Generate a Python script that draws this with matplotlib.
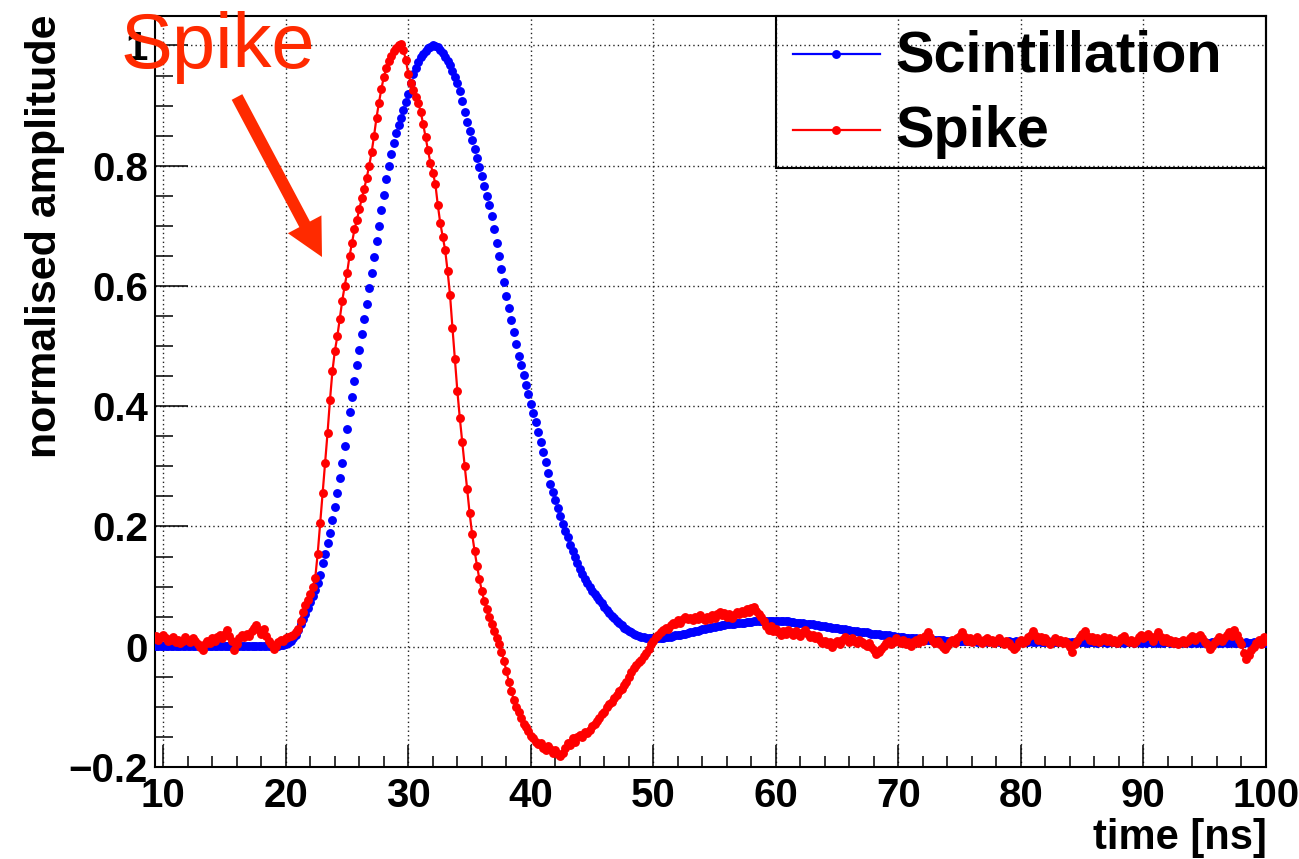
import numpy as np
import matplotlib
matplotlib.use("Agg")
import matplotlib.pyplot as plt
from matplotlib.lines import Line2D
from matplotlib.patches import Rectangle, FancyArrow
from matplotlib.transforms import IdentityTransform
from matplotlib.ticker import MultipleLocator

# ---------------------------------------------------------------- data
# sample times of the digitised pulses (0.2 ns step)
time_ns = np.round(np.arange(9.0, 100.0001, 0.2), 1)

# normalised scintillation pulse, one row per 2 ns
scintillation = [
    0.002, 0.001, 0.002, 0.001, 0.002, 0.002, 0.001, 0.002, 0.001, 0.002,   # 9
    0.001, 0.002, 0.001, 0.001, 0.002, 0.001, 0.002, 0.001, 0.001, 0.002,   # 11
    0.002, 0.001, 0.001, 0.002, 0.001, 0.002, 0.002, 0.001, 0.002, 0.001,   # 13
    0.001, 0.002, 0.002, 0.001, 0.002, 0.001, 0.001, 0.002, 0.002, 0.001,   # 15
    0.002, 0.001, 0.002, 0.002, 0.001, 0.002, 0.001, 0.002, 0.002, 0.002,   # 17
    0.002, 0.002, 0.002, 0.003, 0.003, 0.004, 0.006, 0.009, 0.014, 0.020,   # 19
    0.028, 0.037, 0.046, 0.055, 0.065, 0.075, 0.084, 0.095, 0.106, 0.120,   # 21
    0.140, 0.155, 0.172, 0.190, 0.210, 0.232, 0.255, 0.280, 0.306, 0.334,   # 23
    0.362, 0.390, 0.416, 0.442, 0.468, 0.494, 0.520, 0.545, 0.570, 0.596,   # 25
    0.622, 0.648, 0.674, 0.700, 0.726, 0.752, 0.778, 0.800, 0.820, 0.838,   # 27
    0.855, 0.868, 0.880, 0.892, 0.906, 0.920, 0.938, 0.952, 0.962, 0.972,   # 29
    0.980, 0.986, 0.991, 0.995, 0.998, 1.000, 0.999, 0.997, 0.993, 0.987,   # 31
    0.980, 0.974, 0.968, 0.958, 0.948, 0.937, 0.925, 0.908, 0.890, 0.873,   # 33
    0.857, 0.842, 0.828, 0.813, 0.798, 0.783, 0.767, 0.750, 0.734, 0.716,   # 35
    0.694, 0.672, 0.650, 0.628, 0.606, 0.584, 0.564, 0.544, 0.524, 0.504,   # 37
    0.484, 0.468, 0.452, 0.436, 0.420, 0.404, 0.389, 0.373, 0.357, 0.340,   # 39
    0.324, 0.307, 0.289, 0.271, 0.257, 0.244, 0.230, 0.217, 0.204, 0.193,   # 41
    0.182, 0.170, 0.159, 0.149, 0.139, 0.130, 0.121, 0.113, 0.106, 0.099,   # 43
    0.093, 0.088, 0.083, 0.078, 0.072, 0.066, 0.061, 0.056, 0.051, 0.047,   # 45
    0.043, 0.039, 0.036, 0.032, 0.029, 0.026, 0.024, 0.022, 0.020, 0.018,   # 47
    0.017, 0.016, 0.015, 0.014, 0.014, 0.014, 0.014, 0.015, 0.015, 0.015,   # 49
    0.016, 0.017, 0.017, 0.018, 0.019, 0.019, 0.020, 0.021, 0.022, 0.023,   # 51
    0.024, 0.025, 0.026, 0.027, 0.028, 0.029, 0.030, 0.031, 0.032, 0.033,   # 53
    0.033, 0.034, 0.035, 0.036, 0.036, 0.037, 0.037, 0.038, 0.038, 0.039,   # 55
    0.039, 0.040, 0.040, 0.041, 0.041, 0.041, 0.042, 0.042, 0.042, 0.043,   # 57
    0.043, 0.043, 0.043, 0.043, 0.043, 0.043, 0.043, 0.042, 0.042, 0.042,   # 59
    0.042, 0.041, 0.041, 0.040, 0.040, 0.039, 0.039, 0.038, 0.038, 0.037,   # 61
    0.037, 0.036, 0.036, 0.035, 0.034, 0.034, 0.033, 0.033, 0.032, 0.031,   # 63
    0.031, 0.030, 0.030, 0.029, 0.028, 0.028, 0.027, 0.027, 0.026, 0.025,   # 65
    0.025, 0.024, 0.024, 0.023, 0.022, 0.022, 0.021, 0.021, 0.020, 0.020,   # 67
    0.019, 0.019, 0.018, 0.018, 0.017, 0.017, 0.016, 0.016, 0.015, 0.015,   # 69
    0.014, 0.014, 0.014, 0.013, 0.013, 0.013, 0.012, 0.012, 0.012, 0.012,   # 71
    0.011, 0.011, 0.011, 0.011, 0.010, 0.010, 0.010, 0.010, 0.010, 0.010,   # 73
    0.009, 0.010, 0.009, 0.009, 0.010, 0.009, 0.009, 0.008, 0.009, 0.009,   # 75
    0.009, 0.008, 0.009, 0.009, 0.008, 0.009, 0.008, 0.009, 0.008, 0.008,   # 77
    0.009, 0.008, 0.008, 0.009, 0.008, 0.008, 0.009, 0.008, 0.008, 0.009,   # 79
    0.008, 0.008, 0.009, 0.008, 0.008, 0.008, 0.009, 0.008, 0.008, 0.008,   # 81
    0.008, 0.009, 0.008, 0.008, 0.008, 0.007, 0.008, 0.008, 0.009, 0.008,   # 83
    0.008, 0.008, 0.007, 0.008, 0.008, 0.008, 0.007, 0.008, 0.008, 0.008,   # 85
    0.007, 0.008, 0.008, 0.008, 0.007, 0.008, 0.008, 0.007, 0.008, 0.008,   # 87
    0.008, 0.007, 0.008, 0.008, 0.007, 0.008, 0.007, 0.008, 0.008, 0.007,   # 89
    0.008, 0.007, 0.008, 0.007, 0.008, 0.008, 0.007, 0.008, 0.007, 0.008,   # 91
    0.007, 0.008, 0.007, 0.008, 0.007, 0.007, 0.008, 0.007, 0.008, 0.007,   # 93
    0.008, 0.007, 0.007, 0.008, 0.007, 0.008, 0.007, 0.007, 0.008, 0.007,   # 95
    0.007, 0.008, 0.007, 0.007, 0.008, 0.007, 0.007, 0.008, 0.007, 0.007,   # 97
    0.008, 0.007, 0.007, 0.008, 0.007, 0.007,                               # 99
]

# normalised spike pulse, one row per 2 ns
spike = [
    0.010, 0.014, 0.018, 0.012, 0.016, 0.020, 0.015, 0.010, 0.012, 0.016,   # 9
    0.008, 0.012, 0.006, 0.010, 0.016, 0.012, 0.008, 0.014, 0.010, 0.004,   # 11
    0.000, -0.006, 0.004, 0.010, 0.006, 0.014, 0.010, 0.016, 0.020, 0.014,  # 13
    0.022, 0.028, 0.018, 0.010, -0.006, 0.004, 0.014, 0.020, 0.016, 0.022,  # 15
    0.018, 0.026, 0.032, 0.036, 0.028, 0.022, 0.030, 0.018, 0.010, 0.004,   # 17
    -0.004, 0.002, 0.008, 0.012, 0.010, 0.014, 0.016, 0.018, 0.020, 0.024,  # 19
    0.030, 0.042, 0.058, 0.070, 0.078, 0.088, 0.100, 0.115, 0.155, 0.205,   # 21
    0.255, 0.305, 0.355, 0.410, 0.458, 0.492, 0.516, 0.545, 0.575, 0.600,   # 23
    0.622, 0.650, 0.672, 0.694, 0.710, 0.728, 0.746, 0.762, 0.780, 0.800,   # 25
    0.822, 0.850, 0.880, 0.905, 0.928, 0.948, 0.962, 0.974, 0.983, 0.990,   # 27
    0.996, 1.000, 1.002, 0.992, 0.975, 0.952, 0.938, 0.926, 0.914, 0.905,   # 29
    0.890, 0.870, 0.848, 0.826, 0.804, 0.788, 0.770, 0.735, 0.705, 0.682,   # 31
    0.660, 0.625, 0.585, 0.530, 0.478, 0.425, 0.380, 0.340, 0.300, 0.262,   # 33
    0.222, 0.188, 0.160, 0.135, 0.112, 0.092, 0.076, 0.062, 0.050, 0.038,   # 35
    0.026, 0.015, 0.004, -0.008, -0.024, -0.040, -0.058, -0.074, -0.088, -0.100,  # 37
    -0.108, -0.118, -0.128, -0.134, -0.140, -0.148, -0.152, -0.158, -0.162, -0.160,  # 39
    -0.168, -0.172, -0.165, -0.170, -0.176, -0.171, -0.178, -0.182, -0.176, -0.168,  # 41
    -0.160, -0.164, -0.152, -0.158, -0.150, -0.146, -0.150, -0.142, -0.144, -0.138,  # 43
    -0.132, -0.128, -0.124, -0.118, -0.112, -0.108, -0.100, -0.096, -0.092, -0.086,  # 45
    -0.080, -0.074, -0.070, -0.064, -0.058, -0.050, -0.042, -0.036, -0.030, -0.026,  # 47
    -0.022, -0.016, -0.010, -0.004, 0.004, 0.010, 0.016, 0.020, 0.024, 0.028,  # 49
    0.032, 0.030, 0.036, 0.040, 0.038, 0.044, 0.040, 0.046, 0.050, 0.046,   # 51
    0.048, 0.044, 0.050, 0.046, 0.052, 0.048, 0.044, 0.050, 0.046, 0.052,   # 53
    0.048, 0.054, 0.058, 0.052, 0.056, 0.050, 0.054, 0.048, 0.052, 0.058,   # 55
    0.054, 0.060, 0.056, 0.062, 0.058, 0.064, 0.066, 0.060, 0.054, 0.050,   # 57
    0.042, 0.034, 0.028, 0.034, 0.026, 0.030, 0.024, 0.020, 0.026, 0.022,   # 59
    0.028, 0.024, 0.020, 0.026, 0.022, 0.018, 0.024, 0.028, 0.022, 0.016,   # 61
    0.020, 0.014, 0.018, 0.012, 0.006, 0.010, 0.004, 0.008, 0.000, 0.006,   # 63
    0.010, 0.004, 0.012, 0.016, 0.012, 0.008, 0.014, 0.010, 0.006, 0.012,   # 65
    0.008, 0.004, 0.002, 0.006, 0.000, -0.006, -0.012, -0.008, -0.004, 0.002,  # 67
    0.006, 0.010, 0.004, 0.008, 0.014, 0.010, 0.006, 0.012, 0.004, 0.008,   # 69
    0.002, 0.008, 0.012, 0.006, 0.014, 0.010, 0.018, 0.024, 0.016, 0.010,   # 71
    0.006, 0.010, 0.004, 0.000, -0.004, 0.002, 0.008, 0.012, 0.006, 0.014,  # 73
    0.018, 0.024, 0.016, 0.010, 0.014, 0.008, 0.012, 0.016, 0.010, 0.006,   # 75
    0.012, 0.014, 0.008, 0.012, 0.006, 0.010, 0.014, 0.008, 0.004, 0.010,   # 77
    0.006, 0.002, -0.004, 0.000, 0.008, 0.012, 0.006, 0.010, 0.016, 0.020,  # 79
    0.026, 0.018, 0.012, 0.016, 0.010, 0.014, 0.008, 0.004, 0.010, 0.014,   # 81
    0.008, 0.012, 0.006, 0.010, 0.004, 0.000, -0.008, 0.004, 0.010, 0.016,  # 83
    0.022, 0.026, 0.018, 0.012, 0.016, 0.010, 0.014, 0.008, 0.012, 0.016,   # 85
    0.010, 0.014, 0.008, 0.012, 0.006, 0.010, 0.014, 0.018, 0.012, 0.008,   # 87
    0.012, 0.006, 0.010, 0.016, 0.020, 0.014, 0.018, 0.022, 0.016, 0.010,   # 89
    0.018, 0.024, 0.016, 0.010, 0.014, 0.008, 0.012, 0.006, 0.010, 0.004,   # 91
    0.008, 0.012, 0.006, 0.010, 0.014, 0.018, 0.012, 0.016, 0.020, 0.014,   # 93
    0.008, 0.004, -0.004, 0.002, 0.008, 0.012, 0.016, 0.010, 0.014, 0.020,  # 95
    0.024, 0.018, 0.028, 0.020, 0.012, 0.004, -0.010, -0.020, -0.014, -0.006,  # 97
    0.000, 0.006, 0.012, 0.004, 0.016, 0.010,                               # 99
]

x_major = [10, 20, 30, 40, 50, 60, 70, 80, 90, 100]
x_tick_labels = ["10", "20", "30", "40", "50", "60", "70", "80", "90", "100"]
y_major = [-0.2, 0.0, 0.2, 0.4, 0.6, 0.8, 1.0]
y_tick_labels = ["\u22120.2", "0", "0.2", "0.4", "0.6", "0.8", "1"]
series_labels = ["Scintillation", "Spike"]
series_colors = ["#0000ff", "#ff0000"]
x_title = "time [ns]"
y_title = "normalised amplitude"
note_text = "Spike"
note_color = "#ff2a00"

# ---------------------------------------------------------------- figure
W, H = 1299, 859
plt.rcParams["font.family"] = ["Liberation Sans", "DejaVu Sans"]


def px(x, y):
    """Figure-fraction coordinates of a pixel position measured from top-left."""
    return x / W, 1 - y / H


fig = plt.figure(figsize=(W / 100, H / 100), dpi=100, facecolor="white")
ax = fig.add_axes([155 / W, 1 - 767 / H, 1111 / W, 751 / H])
ax.set_xlim(9.32, 100)
ax.set_ylim(-0.2, 1.049)

ax.plot(time_ns, scintillation, ls="none", marker="o", ms=6.4, mew=0,
        color=series_colors[0], zorder=3)
ax.plot(time_ns, spike, ls="-", lw=1.6, marker="o", ms=6.4, mew=0,
        color=series_colors[1], zorder=4)

# axes, ticks and grid
ax.set_xticks(x_major, x_tick_labels)
ax.set_yticks(y_major, y_tick_labels)
ax.xaxis.set_minor_locator(MultipleLocator(2))
ax.yaxis.set_minor_locator(MultipleLocator(0.05))
ax.tick_params(which="both", direction="in", top=False, right=False,
               width=1.1, color="black")
ax.tick_params(axis="x", which="major", length=16, pad=7, labelsize=29)
ax.tick_params(axis="x", which="minor", length=8)
ax.tick_params(axis="y", which="major", length=24, pad=5, labelsize=29)
ax.tick_params(axis="y", which="minor", length=13)
for lab in ax.get_xticklabels() + ax.get_yticklabels():
    lab.set_fontweight("bold")
ax.grid(True, which="major", color="#222222", lw=1.0, ls=(0, (1, 2.2)))
ax.set_axisbelow(True)
for sp in ax.spines.values():
    sp.set_linewidth(1.5)

# axis titles
fig.text(*px(45, 15), y_title, rotation=90, ha="center", va="top",
         fontsize=31, fontweight="bold")
fig.text(*px(1267, 849), x_title, ha="right", va="baseline",
         fontsize=30, fontweight="bold")

# legend box
fig.add_artist(Rectangle(px(776, 168), 490 / W, 152 / H, fill=False,
                         lw=1.5, edgecolor="black",
                         transform=fig.transFigure))
for (row_y, base_y), lab, col in zip([(54, 71), (130, 147)],
                                     series_labels, series_colors):
    x0, y0 = px(793, row_y)
    x1, _ = px(880, row_y)
    xm, _ = px(836, row_y)
    fig.add_artist(Line2D([x0, x1], [y0, y0], color=col, lw=1.6,
                          transform=fig.transFigure))
    fig.add_artist(Line2D([xm], [y0], color=col, marker="o", ms=6.4, mew=0,
                          transform=fig.transFigure))
    fig.text(*px(895, base_y), lab, ha="left", va="baseline",
             fontsize=41.5, fontweight="bold")

# annotation pointing at the spike pulse
fig.text(*px(121, 68), note_text, ha="left", va="baseline", fontsize=56,
         fontweight="normal", color=note_color, zorder=10)
tail = (237, H - 97)
tip = (322, H - 257)
fig.add_artist(FancyArrow(tail[0], tail[1], tip[0] - tail[0], tip[1] - tail[1],
                          width=12, head_width=38, head_length=37,
                          length_includes_head=True, color=note_color, lw=0,
                          transform=IdentityTransform(), zorder=10))

fig.savefig("out.png", dpi=100, facecolor="white")
